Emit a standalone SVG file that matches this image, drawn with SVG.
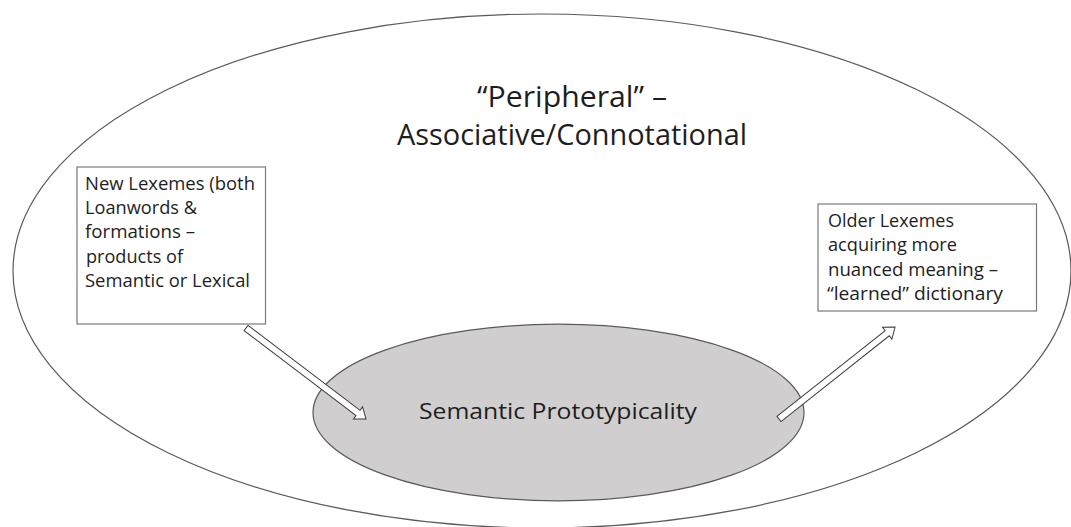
<svg xmlns="http://www.w3.org/2000/svg" width="1071" height="527" viewBox="0 0 1071 527">
  <style>
    .outline { fill: #ffffff; stroke: #5a5a5a; stroke-width: 1.2; }
    .core { fill: #d0cece; stroke: #5a5a5a; stroke-width: 1.2; }
    .box { fill: #ffffff; stroke: #7a7a7a; stroke-width: 1.2; }
    .arrow { fill: #ffffff; stroke: #3c3c3c; stroke-width: 1; stroke-linejoin: miter; }
    .t { font-family: "Open Sans", "Liberation Sans", sans-serif; fill: #1e1e1e; }
    .title { font-size: 30px; text-anchor: middle; }
    .mid { font-size: 21px; text-anchor: middle; }
    .small { font-size: 18px; }
  </style>
  <rect x="0" y="0" width="1071" height="527" fill="#ffffff"/>

  <g id="peripheral">
    <ellipse class="outline" cx="542" cy="271" rx="529" ry="257"/>
    <text class="t title" x="572" y="107" textLength="190" lengthAdjust="spacingAndGlyphs">“Peripheral” –</text>
    <text class="t title" x="572" y="145" textLength="350" lengthAdjust="spacingAndGlyphs">Associative/Connotational</text>
  </g>

  <g id="prototypicality">
    <ellipse class="core" cx="558.5" cy="412.5" rx="245.5" ry="88.3"/>
    <text class="t mid" x="558" y="419" textLength="278" lengthAdjust="spacingAndGlyphs">Semantic Prototypicality</text>
  </g>

  <g id="new-lexemes">
    <rect class="box" x="77" y="167" width="188.5" height="157"/>
    <text class="t small" x="85" y="190" textLength="170" lengthAdjust="spacingAndGlyphs">New Lexemes (both</text>
    <text class="t small" x="85" y="214" textLength="112" lengthAdjust="spacingAndGlyphs">Loanwords &amp;</text>
    <text class="t small" x="85" y="238" textLength="110" lengthAdjust="spacingAndGlyphs">formations –</text>
    <text class="t small" x="86" y="262.5" textLength="97" lengthAdjust="spacingAndGlyphs">products of</text>
    <text class="t small" x="85" y="287" textLength="165" lengthAdjust="spacingAndGlyphs">Semantic or Lexical</text>
  </g>

  <g id="older-lexemes">
    <rect class="box" x="818" y="204" width="218.5" height="107"/>
    <text class="t small" x="828" y="227" textLength="126" lengthAdjust="spacingAndGlyphs">Older Lexemes</text>
    <text class="t small" x="828" y="251" textLength="129" lengthAdjust="spacingAndGlyphs">acquiring more</text>
    <text class="t small" x="828" y="275.5" textLength="170" lengthAdjust="spacingAndGlyphs">nuanced meaning –</text>
    <text class="t small" x="827" y="300" textLength="176" lengthAdjust="spacingAndGlyphs">“learned” dictionary</text>
  </g>

  <g id="connectors">
    <polygon class="arrow" transform="translate(246,328) rotate(37.17)" points="0,-3.3 140.6,-3.3 140.6,-7.5 150.6,0 140.6,7.5 140.6,3.3 0,3.3"/>
    <polygon class="arrow" transform="translate(779,419) rotate(-38.4)" points="0,-3.3 138.1,-3.3 138.1,-7.5 148.1,0 138.1,7.5 138.1,3.3 0,3.3"/>
  </g>
</svg>
